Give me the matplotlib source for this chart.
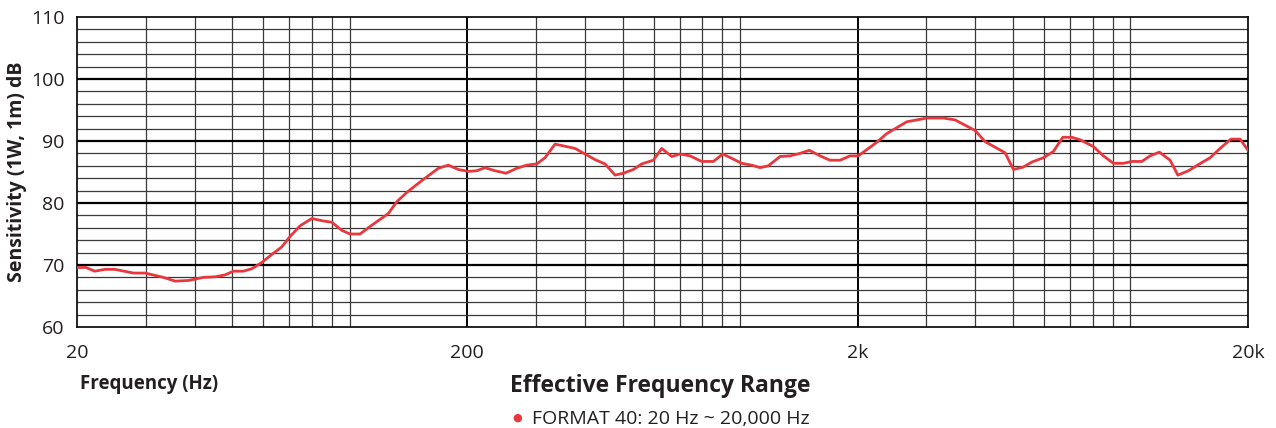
import matplotlib
matplotlib.use("Agg")
import matplotlib.pyplot as plt
from matplotlib.ticker import FixedLocator, NullLocator, FixedFormatter

plt.rcParams['font.family'] = ['Open Sans', 'DejaVu Sans']

freq_hz = [20, 21.1, 22.2, 23.6, 25.0, 27.9, 29.9, 33.3, 35.7, 38.6, 42.1, 45.2, 47.9,
           50.3, 53.3, 56.1, 59.5, 63.1, 66.9, 70.3, 74.5, 79.9, 85.5, 89.9, 95.3, 100.1,
           106.2, 112.6, 125.5, 131.9, 139.9, 152.8, 168.6, 178.8, 189.7, 201.2, 211.4,
           222.0, 235.5, 251.4, 267.7, 283.9, 301.2, 316.3, 335.5, 377.6, 400.5, 424.8,
           450.6, 478.0, 502.0, 532.5, 559.5, 599.2, 629.6, 667.8, 701.4, 744, 797, 854,
           902.5, 952, 1009, 1071, 1125, 1181, 1265, 1342, 1423, 1504, 1602, 1699, 1803,
           1912, 2008, 2239, 2375, 2672, 3006, 3316, 3553, 3997, 4241, 4772, 5012, 5316,
           5586, 5981, 6345, 6707, 7073, 7428, 8036, 8524, 9041, 9590, 10078, 10690,
           11226, 11858, 12632, 13220, 14074, 14929, 15994, 16965, 18068, 19088, 20000]
spl_db = [69.6, 69.6, 69.0, 69.3, 69.3, 68.7, 68.7, 68.0, 67.4, 67.5, 68.0, 68.1, 68.4,
          69.0, 69.0, 69.4, 70.4, 71.7, 72.9, 74.6, 76.3, 77.5, 77.1, 76.9, 75.6, 75.0,
          75.0, 76.2, 78.3, 80.2, 81.7, 83.6, 85.6, 86.1, 85.4, 85.1, 85.2, 85.7, 85.2,
          84.8, 85.6, 86.1, 86.3, 87.3, 89.5, 88.8, 87.9, 87.0, 86.3, 84.5, 84.8, 85.4,
          86.3, 86.9, 88.8, 87.5, 87.9, 87.6, 86.7, 86.7, 87.9, 87.2, 86.4, 86.1, 85.7,
          86.0, 87.5, 87.6, 88.0, 88.5, 87.6, 86.9, 86.9, 87.6, 87.6, 89.8, 91.2, 93.1,
          93.7, 93.7, 93.4, 91.7, 89.9, 88.1, 85.4, 85.8, 86.6, 87.3, 88.3, 90.6, 90.6,
          90.2, 89.1, 87.6, 86.4, 86.4, 86.7, 86.7, 87.6, 88.2, 86.9, 84.5, 85.2, 86.2,
          87.3, 88.8, 90.3, 90.3, 88.5]

x_major = [20, 200, 2000, 20000]
x_labels = ["20", "200", "2k", "20k"]
y_major = [60, 70, 80, 90, 100, 110]
y_labels = ["60", "70", "80", "90", "100", "110"]

text_color = "#231f20"
red = "#e8383d"

fig = plt.figure(figsize=(12.76, 4.28), dpi=100)
ax = fig.add_axes([77/1276, 1 - 327/428, (1248 - 77)/1276, (327 - 17)/428])
ax.set_xscale("log")
ax.set_xlim(20, 20000)
ax.set_ylim(60, 110)

# grid lines
minor_x = [m * 10**e for e in range(1, 5) for m in range(1, 10)]
for v in minor_x:
    if 20 < v < 20000 and v not in x_major:
        ax.axvline(v, color="#3a3a3a", lw=0.9, zorder=1)
for v in x_major[1:-1]:
    ax.axvline(v, color="#000000", lw=1.4, zorder=1)
for v in range(62, 110, 2):
    if v % 10:
        ax.axhline(v, color="#3a3a3a", lw=0.9, zorder=1)
for v in y_major[1:-1]:
    ax.axhline(v, color="#000000", lw=1.6, zorder=1)

ax.plot(freq_hz, spl_db, color=red, lw=2.0, zorder=3, solid_joinstyle="round")

ax.xaxis.set_major_locator(FixedLocator(x_major))
ax.xaxis.set_major_formatter(FixedFormatter(x_labels))
ax.xaxis.set_minor_locator(NullLocator())
ax.yaxis.set_major_locator(FixedLocator(y_major))
ax.yaxis.set_major_formatter(FixedFormatter(y_labels))
ax.tick_params(length=0, labelsize=14, colors=text_color)
ax.tick_params(axis="x", pad=12)
ax.tick_params(axis="y", pad=9)
for s in ax.spines.values():
    s.set_color("#000000")
    s.set_linewidth(1.2)

ax.set_ylabel("Sensitivity (1W, 1m) dB", fontsize=14, fontweight="bold",
              color=text_color, va="center")
ax.yaxis.set_label_coords((17 - 77) / (1248 - 77), 0.5)

fig.text(80/1276, 1 - 384/428, "Frequency (Hz)", fontsize=13.5, fontweight="bold",
         color=text_color, ha="left", va="center")
fig.text(660/1276, 1 - 386/428, "Effective Frequency Range", fontsize=16.5,
         fontweight="bold", color=text_color, ha="center", va="center")
fig.text(517/1276, 1 - 418/428, "\u25cf", fontsize=8, color=red, ha="center", va="center",
         family=["DejaVu Sans"])
fig.text(532/1276, 1 - 419/428, "FORMAT 40: 20 Hz ~ 20,000 Hz", fontsize=14,
         color=text_color, ha="left", va="center")

fig.savefig("out.png", dpi=100)
